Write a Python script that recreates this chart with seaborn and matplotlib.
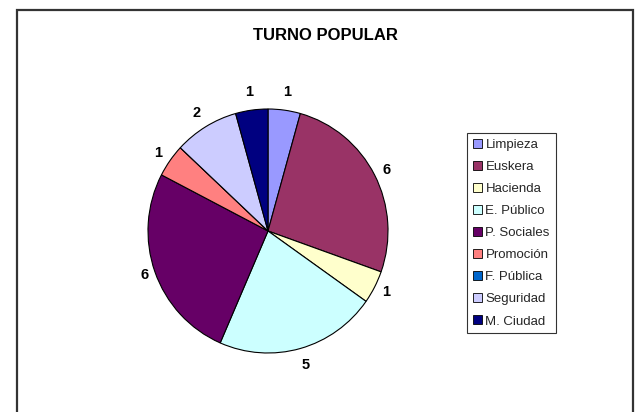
import matplotlib
matplotlib.use("Agg")
import numpy as np
import matplotlib.pyplot as plt
import seaborn as sns
from matplotlib.patches import Rectangle, Patch

sns.set_theme(style="white")
plt.rcParams['font.family'] = ['Liberation Sans', 'DejaVu Sans']

title = "TURNO POPULAR"
categories = ["Limpieza", "Euskera", "Hacienda", "E. Público", "P. Sociales",
              "Promoción", "F. Pública", "Seguridad", "M. Ciudad"]
values = [1, 6, 1, 5, 6, 1, 0, 2, 1]
colors = ["#9999FF", "#993366", "#FFFFCC", "#CCFFFF", "#660066",
          "#FF8080", "#0066CC", "#CCCCFF", "#000080"]

W, H = 637, 412
fig = plt.figure(figsize=(W / 100, H / 100), dpi=100)
fig.patch.set_facecolor("white")

# chart frame
fig.patches.append(Rectangle((16.5 / W, -0.05), (633 - 16.5) / W, (H - 9.5) / H + 0.05,
                             transform=fig.transFigure, fill=False,
                             edgecolor="#333333", linewidth=1.6))

cx, cy, rx, ry = 268, 231, 120, 122
ax = fig.add_axes([(cx - rx) / W, (H - cy - ry) / H, 2 * rx / W, 2 * ry / H])
wedges, _ = ax.pie(values, colors=colors, startangle=90, counterclock=False,
                   wedgeprops=dict(edgecolor="black", linewidth=0.8))
for w, v in zip(wedges, values):
    if v == 0:
        continue
    ang = np.deg2rad((w.theta1 + w.theta2) / 2)
    c = abs(np.sin(ang))  # vertical component
    rp = 127 + 13 * c
    ax.text(rp * np.cos(ang) / rx, rp * np.sin(ang) / ry, str(v),
            ha="center", va="center", fontsize=10.5, fontweight="bold",
            color="black")
ax.set_xlim(-1, 1)
ax.set_ylim(-1, 1)
ax.set_aspect("auto")
ax.axis("off")

fig.text(325 / W, 1 - 35.5 / H, title, ha="center", va="center",
         fontsize=12, fontweight="bold", color="black")

handles = [Patch(facecolor=c, edgecolor="black", linewidth=0.6) for c in colors]
leg = fig.legend(handles, categories, loc="upper left",
                 bbox_to_anchor=(467 / W, 1 - 133 / H),
                 frameon=True, fancybox=False, shadow=False,
                 fontsize=9.5, handlelength=0.65, handleheight=0.65,
                 handletextpad=0.3, labelspacing=0.76, borderpad=0.45,
                 borderaxespad=0)
leg.get_frame().set_edgecolor("black")
leg.get_frame().set_linewidth(0.8)

fig.savefig("out.png", dpi=100, facecolor="white")
